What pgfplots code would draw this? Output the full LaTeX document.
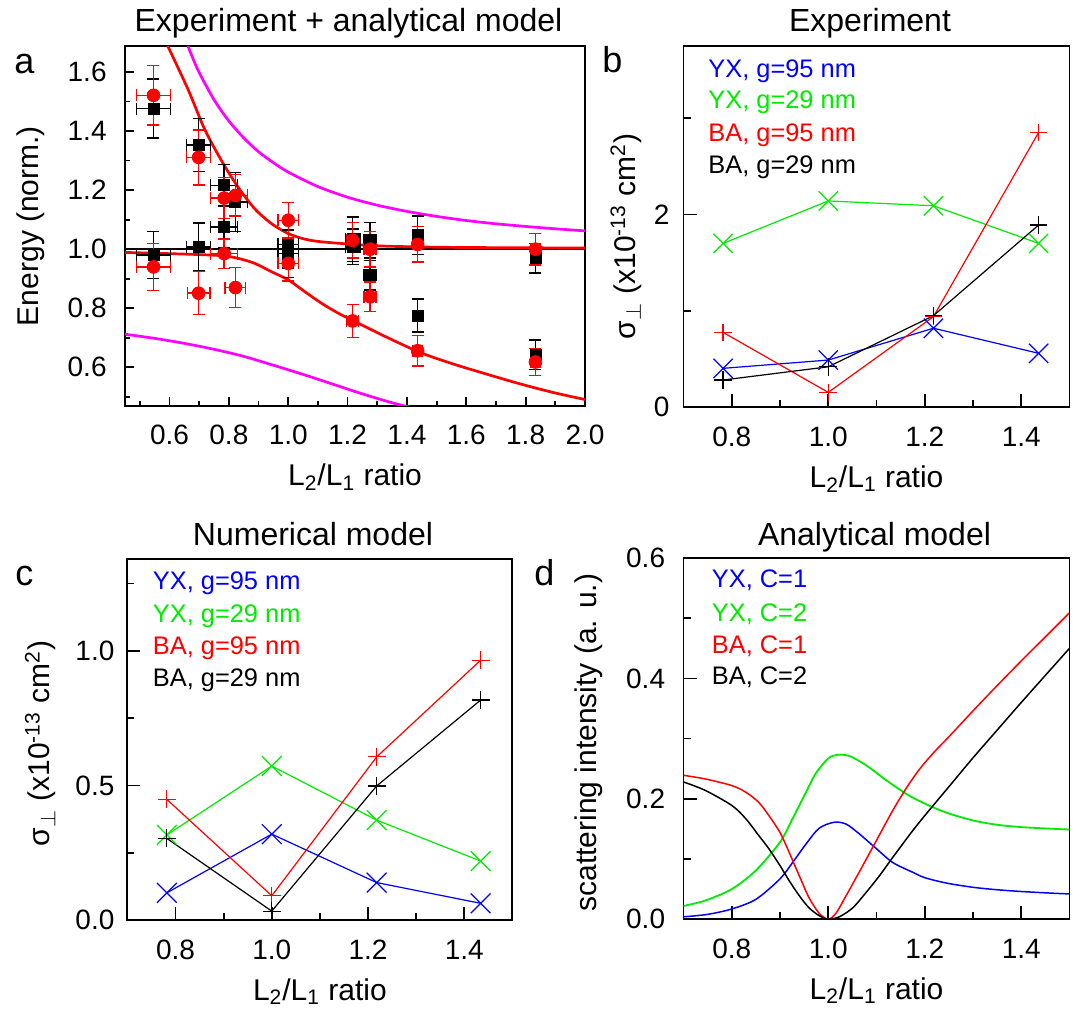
\documentclass[border=0pt]{standalone}
\usepackage{fontspec}
\setmainfont{Liberation Sans}
\usepackage{pgfplots}
\usepackage{pgfplotstable}
\pgfplotsset{compat=1.18}

\definecolor{cblue}{RGB}{0,0,255}
\definecolor{cgreen}{RGB}{0,235,0}
\definecolor{cred}{RGB}{255,0,0}
\definecolor{cmag}{RGB}{255,0,255}

\newcommand{\fticks}{\fontsize{14}{16}\selectfont}
\newcommand{\flabel}{\fontsize{15}{18}\selectfont}
\newcommand{\ftitle}{\fontsize{16}{19}\selectfont}
\newcommand{\fleg}{\fontsize{12.7}{15}\selectfont}
\newcommand{\fletter}{\fontsize{18}{21}\selectfont}

% panel a: experiment, black squares and red circles (x y ex ey)
\pgfplotstableread{
x y ex ey
0.546 1.476 0.058 0.100
0.698 1.353 0.040 0.090
0.784 1.216 0.046 0.070
0.822 1.160 0.040 0.100
0.784 1.075 0.046 0.070
0.546 0.980 0.058 0.080
0.698 1.008 0.040 0.080
1.000 1.016 0.034 0.080
1.000 0.985 0.034 0.080
1.217 1.034 0.025 0.075
1.217 1.008 0.025 0.060
1.276 1.030 0.020 0.060
1.276 0.912 0.020 0.050
1.436 1.047 0.017 0.065
1.436 0.775 0.017 0.056
1.833 0.969 0.015 0.050
1.833 0.643 0.015 0.050
}\blackpts
\pgfplotstableread{
x y ex ey
0.546 1.521 0.058 0.100
0.698 1.311 0.040 0.093
0.784 1.173 0.046 0.070
0.822 1.182 0.040 0.070
0.546 0.940 0.058 0.080
0.698 0.851 0.038 0.073
0.784 0.985 0.046 0.050
0.822 0.870 0.035 0.067
1.000 1.098 0.034 0.060
1.000 0.952 0.034 0.060
1.217 1.030 0.020 0.060
1.217 0.757 0.020 0.056
1.276 1.000 0.020 0.060
1.276 0.839 0.020 0.050
1.436 1.016 0.015 0.060
1.436 0.656 0.015 0.052
1.833 1.000 0.015 0.053
1.833 0.618 0.015 0.045
}\redpts

\pgfplotsset{
  panel/.style={
    scale only axis,
    tick align=inside,
    tick pos=left,
    axis line style={line width=0.9pt},
    every tick/.style={line width=0.9pt, black},
    xticklabel style={font=\fticks, anchor=base, yshift=-19.5pt, inner sep=0pt},
    yticklabel style={font=\fticks, anchor=east, inner sep=0pt},
    xlabel style={font=\flabel, at={([yshift=-40pt]axis description cs:0.5,0)}, anchor=base},
    ylabel style={font=\flabel, anchor=base},
  },
  nums/.style={
    xmin=0.7, xmax=1.5,
    xtick={0.8,1.0,1.2,1.4}, xticklabels={0.8,1.0,1.2,1.4},
    minor xtick={0.9,1.1,1.3},
    major tick length=6.5pt, minor tick length=3.5pt,
    xlabel={L\textsubscript{2}/L\textsubscript{1} ratio},
  },
  ebars/.style={
    error bars/.cd, x dir=both, x explicit, y dir=both, y explicit,
    error bar style={line width=0.7pt},
    error mark options={rotate=90, mark size=3pt, line width=0.7pt},
  },
}

\begin{document}
\begin{tikzpicture}
\path[use as bounding box] (0,0) rectangle (539pt,-505.5pt);

% ---------------- a ----------------
\begin{axis}[panel, at={(62.5pt,-23pt)}, anchor=north west,
  width=230pt, height=180pt,
  xmin=0.45, xmax=2.0, ymin=0.469, ymax=1.688,
  xtick={0.6,0.8,1.0,1.2,1.4,1.6,1.8,2.0},
  xticklabels={0.6,0.8,1.0,1.2,1.4,1.6,1.8,2.0},
  minor xtick={0.5,0.7,0.9,1.1,1.3,1.5,1.7,1.9},
  ytick={0.6,0.8,1.0,1.2,1.4,1.6},
  yticklabels={0.6,0.8,1.0,1.2,1.4,1.6},
  minor ytick={0.5,0.7,0.9,1.1,1.3,1.5},
  major tick length=4.5pt, minor tick length=2.5pt,
  yticklabel style={xshift=-9pt},
  xlabel={L\textsubscript{2}/L\textsubscript{1} ratio},
  ylabel={Energy (norm.)},
  ylabel style={at={([xshift=-43.2pt]axis description cs:0,0.5)}},
]
\addplot[black, line width=1pt] coordinates {(0.45,1) (2.0,1)};
\addplot[cmag, line width=1.35pt, smooth] coordinates {
 (0.662,1.688) (0.68,1.643) (0.70,1.598) (0.75,1.506) (0.80,1.434) (0.85,1.377)
 (0.90,1.330) (0.95,1.293) (1.00,1.261) (1.10,1.212) (1.20,1.176) (1.30,1.149)
 (1.40,1.128) (1.50,1.111) (1.60,1.097) (1.70,1.086) (1.80,1.077) (1.90,1.069)
 (2.00,1.062)};
\addplot[cmag, line width=1.35pt, smooth] coordinates {
 (0.45,0.712) (0.55,0.698) (0.65,0.681) (0.75,0.661) (0.85,0.637) (0.95,0.607)
 (1.05,0.576) (1.15,0.543) (1.25,0.510) (1.35,0.480) (1.43,0.460)};
\addplot[cred, line width=1.35pt, smooth] coordinates {
 (0.594,1.688) (0.662,1.542) (0.718,1.407) (0.775,1.300) (0.831,1.210)
 (0.887,1.137) (0.943,1.087) (1.000,1.053) (1.056,1.034) (1.112,1.025)
 (1.225,1.016) (1.338,1.010) (1.563,1.006) (2.000,1.004)};
\addplot[cred, line width=1.35pt, smooth] coordinates {
 (0.45,0.989) (0.662,0.983) (0.775,0.978) (0.831,0.969) (0.887,0.952)
 (0.943,0.924) (1.000,0.896) (1.056,0.856) (1.112,0.817) (1.169,0.783)
 (1.225,0.755) (1.338,0.699) (1.450,0.648) (1.563,0.609) (1.675,0.575)
 (1.788,0.542) (1.900,0.513) (2.000,0.491)};
\addplot[only marks, black, mark=square*, mark size=2.75pt, ebars]
  table[x=x, y=y, x error=ex, y error=ey] {\blackpts};
\addplot[only marks, cred, mark=*, mark size=3.2pt, ebars]
  table[x=x, y=y, x error=ex, y error=ey] {\redpts};
\end{axis}

% ---------------- b ----------------
\begin{axis}[panel, nums, at={(341.75pt,-22.85pt)}, anchor=north west,
  width=193pt, height=180.8pt,
  ymin=0, ymax=3.75,
  ytick={0,2}, yticklabels={0,2}, minor ytick={1,3},
  yticklabel style={xshift=-6.8pt},
  ylabel={σ\textsubscript{$\perp$} (x10\textsuperscript{-13} cm\textsuperscript{2})},
  ylabel style={at={([xshift=-24pt, yshift=-5pt]axis description cs:0,0.5)}},
  every axis plot/.append style={line width=0.6pt, mark options={line width=0.6pt}},
]
\addplot[cblue, mark=x, mark size=6.8pt] coordinates {(0.782,0.404) (1.0,0.49) (1.218,0.82) (1.436,0.56)};
\addplot[cgreen, mark=x, mark size=6.8pt] coordinates {(0.782,1.70) (1.0,2.14) (1.218,2.09) (1.436,1.70)};
\addplot[cred, mark=+, mark size=4.4pt] coordinates {(0.782,0.777) (1.0,0.155) (1.218,0.94) (1.436,2.85)};
\addplot[black, mark=+, mark size=4.4pt] coordinates {(0.782,0.283) (1.0,0.42) (1.218,0.95) (1.436,1.89)};
\end{axis}

% ---------------- c ----------------
\begin{axis}[panel, nums, at={(63.7pt,-279.65pt)}, anchor=north west,
  width=192.5pt, height=180.35pt,
  ymin=0, ymax=1.34,
  ytick={0,0.5,1.0}, yticklabels={0.0,0.5,1.0}, minor ytick={0.25,0.75,1.25},
  yticklabel style={xshift=-6.3pt},
  ylabel={σ\textsubscript{$\perp$} (x10\textsuperscript{-13} cm\textsuperscript{2})},
  ylabel style={at={([xshift=-38.7pt, yshift=-2pt]axis description cs:0,0.5)}},
  every axis plot/.append style={line width=0.6pt, mark options={line width=0.6pt}},
]
\addplot[cblue, mark=x, mark size=7pt] coordinates {(0.782,0.101) (1.0,0.319) (1.218,0.139) (1.434,0.062)};
\addplot[cgreen, mark=x, mark size=7pt] coordinates {(0.782,0.316) (1.0,0.572) (1.218,0.371) (1.434,0.219)};
\addplot[cred, mark=+, mark size=4.5pt] coordinates {(0.782,0.448) (1.0,0.090) (1.218,0.606) (1.434,0.965)};
\addplot[black, mark=+, mark size=4.5pt] coordinates {(0.782,0.303) (1.0,0.033) (1.218,0.498) (1.434,0.817)};
\end{axis}

% ---------------- d ----------------
\begin{axis}[panel, nums, at={(341.75pt,-279pt)}, anchor=north west,
  width=193pt, height=180.6pt,
  ymin=0, ymax=0.6,
  ytick={0,0.2,0.4,0.6}, yticklabels={0.0,0.2,0.4,0.6}, minor ytick={0.1,0.3,0.5},
  yticklabel style={xshift=-9pt},
  ylabel={scattering intensity (a. u.)},
  ylabel style={at={([xshift=-43.3pt, yshift=-2pt]axis description cs:0,0.5)}},
  every axis plot/.append style={line width=0.75pt, smooth, tension=0.5},
]
\addplot[cblue] coordinates {
 (0.7,0.004) (0.75,0.008) (0.8,0.017) (0.85,0.033) (0.9,0.067) (0.926,0.094)
 (0.954,0.125) (0.981,0.151) (1.012,0.161) (1.037,0.158) (1.064,0.142) (1.1,0.117)
 (1.134,0.094) (1.175,0.078) (1.2,0.069) (1.245,0.060) (1.3,0.053) (1.349,0.049)
 (1.4,0.046) (1.47,0.043) (1.5,0.042)};
\addplot[cgreen, line width=0.9pt] coordinates {
 (0.7,0.022) (0.745,0.031) (0.8,0.050) (0.85,0.081) (0.9,0.128) (0.926,0.167)
 (0.954,0.211) (0.974,0.242) (1.0,0.267) (1.019,0.273) (1.044,0.271) (1.078,0.256)
 (1.12,0.231) (1.162,0.208) (1.2,0.192) (1.245,0.177) (1.3,0.164) (1.349,0.157)
 (1.4,0.153) (1.47,0.150) (1.5,0.149)};
\addplot[cred] coordinates {
 (0.7,0.239) (0.745,0.233) (0.8,0.222) (0.829,0.211) (0.856,0.194) (0.877,0.172)
 (0.9,0.144) (0.919,0.111) (0.94,0.072) (0.96,0.036) (0.981,0.010) (1.0,0.0)
 (1.016,0.010) (1.037,0.039) (1.064,0.078) (1.1,0.131) (1.134,0.181) (1.162,0.218)
 (1.19,0.250) (1.22,0.278) (1.25,0.303) (1.3,0.346) (1.35,0.388) (1.4,0.429) (1.45,0.469) (1.5,0.509)};
\addplot[black] coordinates {
 (0.7,0.228) (0.745,0.214) (0.8,0.189) (0.829,0.167) (0.856,0.139) (0.877,0.117)
 (0.9,0.089) (0.919,0.064) (0.94,0.039) (0.96,0.019) (0.981,0.006) (1.0,0.0)
 (1.023,0.004) (1.051,0.019) (1.078,0.044) (1.106,0.072) (1.134,0.103) (1.175,0.147)
 (1.2,0.172) (1.25,0.220) (1.3,0.268) (1.35,0.314) (1.4,0.360) (1.45,0.405) (1.5,0.450)};
\end{axis}

% titles
\node[font=\ftitle, anchor=base] at (174.25pt,-16pt) {Experiment + analytical model};
\node[font=\ftitle, anchor=base] at (435pt,-16pt) {Experiment};
\node[font=\ftitle, anchor=base] at (156.5pt,-272.5pt) {Numerical model};
\node[font=\ftitle, anchor=base] at (437.25pt,-272.5pt) {Analytical model};

% panel letters
\node[font=\fletter, anchor=base west, inner sep=0pt] at (7pt,-37pt) {a};
\node[font=\fletter, anchor=base west, inner sep=0pt] at (301pt,-36.5pt) {b};
\node[font=\fletter, anchor=base west, inner sep=0pt] at (7.5pt,-292.5pt) {c};
\node[font=\fletter, anchor=base west, inner sep=0pt] at (267pt,-292.5pt) {d};

% legends
\begin{scope}[every node/.style={font=\fleg, anchor=base west, inner sep=0pt}]
\node[text=cblue]  at (354pt,-38.65pt) {YX, g=95 nm};
\node[text=cgreen] at (354pt,-54.5pt)  {YX, g=29 nm};
\node[text=cred]   at (354pt,-70.85pt) {BA, g=95 nm};
\node[text=black]  at (354pt,-87pt)    {BA, g=29 nm};
\node[text=cblue]  at (76.25pt,-294.5pt)  {YX, g=95 nm};
\node[text=cgreen] at (76.25pt,-311.15pt) {YX, g=29 nm};
\node[text=cred]   at (76.25pt,-327pt)    {BA, g=95 nm};
\node[text=black]  at (76.25pt,-343.35pt) {BA, g=29 nm};
\node[text=cblue]  at (355.75pt,-293.65pt) {YX, C=1};
\node[text=cgreen] at (355.75pt,-310.65pt) {YX, C=2};
\node[text=cred]   at (355.75pt,-326.5pt)  {BA, C=1};
\node[text=black]  at (355.75pt,-342.35pt) {BA, C=2};
\end{scope}
\end{tikzpicture}
\end{document}
